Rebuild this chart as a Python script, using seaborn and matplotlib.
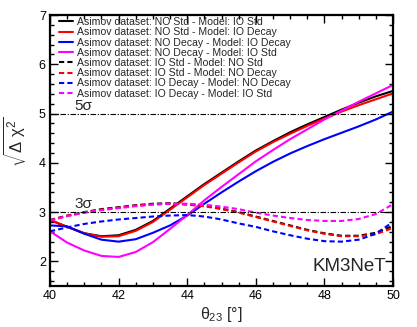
import numpy as np
import pandas as pd
import matplotlib
matplotlib.use("Agg")
import matplotlib.pyplot as plt
from matplotlib.ticker import MultipleLocator
import seaborn as sns

theta = [40, 40.5, 41, 41.5, 42, 42.5, 43, 43.5, 44, 44.5, 45,
         45.5, 46, 46.5, 47, 47.5, 48, 48.5, 49, 49.5, 50]

no_std_io_std = [2.84, 2.70, 2.57, 2.51, 2.53, 2.64, 2.82, 3.07, 3.32, 3.57, 3.80,
                 4.03, 4.25, 4.44, 4.62, 4.78, 4.93, 5.08, 5.22, 5.35, 5.46]
no_std_io_decay = [2.84, 2.70, 2.57, 2.50, 2.51, 2.62, 2.80, 3.05, 3.30, 3.55, 3.78,
                   4.01, 4.23, 4.42, 4.59, 4.75, 4.90, 5.04, 5.17, 5.29, 5.41]
no_decay_io_decay = [2.73, 2.71, 2.56, 2.44, 2.40, 2.45, 2.58, 2.73, 2.93, 3.17, 3.40,
                     3.62, 3.83, 4.02, 4.19, 4.34, 4.48, 4.61, 4.74, 4.88, 5.04]
no_decay_io_std = [2.61, 2.38, 2.22, 2.11, 2.09, 2.19, 2.39, 2.66, 2.94, 3.24, 3.51,
                   3.77, 4.03, 4.26, 4.48, 4.68, 4.88, 5.06, 5.24, 5.41, 5.58]
io_std_no_std = [2.84, 2.93, 3.00, 3.06, 3.10, 3.14, 3.17, 3.18, 3.16, 3.13, 3.07,
                 3.00, 2.91, 2.82, 2.73, 2.64, 2.57, 2.52, 2.52, 2.58, 2.72]
io_std_no_decay = [2.83, 2.92, 2.99, 3.05, 3.09, 3.13, 3.16, 3.17, 3.15, 3.12, 3.06,
                   2.99, 2.90, 2.81, 2.72, 2.63, 2.56, 2.51, 2.51, 2.55, 2.68]
io_decay_no_decay = [2.61, 2.69, 2.76, 2.81, 2.85, 2.88, 2.91, 2.93, 2.94, 2.91, 2.85,
                     2.77, 2.70, 2.61, 2.53, 2.46, 2.41, 2.40, 2.44, 2.56, 2.80]
io_decay_io_std = [2.83, 2.92, 2.99, 3.04, 3.08, 3.12, 3.15, 3.17, 3.17, 3.15, 3.11,
                   3.06, 2.99, 2.93, 2.88, 2.84, 2.82, 2.82, 2.86, 2.96, 3.16]

labels = ['Asimov dataset: NO Std - Model: IO Std',
          'Asimov dataset: NO Std - Model: IO Decay',
          'Asimov dataset: NO Decay - Model: IO Decay',
          'Asimov dataset: NO Decay - Model: IO Std',
          'Asimov dataset: IO Std - Model: NO Std',
          'Asimov dataset: IO Std - Model: NO Decay',
          'Asimov dataset: IO Decay - Model: NO Decay',
          'Asimov dataset: IO Decay - Model: IO Std']
series = [no_std_io_std, no_std_io_decay, no_decay_io_decay, no_decay_io_std,
          io_std_no_std, io_std_no_decay, io_decay_no_decay, io_decay_io_std]
colors = ['black', 'red', 'blue', 'magenta'] * 2
styles = ['-'] * 4 + [(0, (2.5, 1.5))] * 4

sns.set_theme(style="ticks")
plt.rcParams['font.family'] = ['Liberation Sans', 'DejaVu Sans']
plt.rcParams['mathtext.fontset'] = 'custom'
plt.rcParams['mathtext.rm'] = 'Liberation Sans'
plt.rcParams['mathtext.it'] = 'Liberation Sans'

fig = plt.figure(figsize=(4.17, 3.27), dpi=100)
ax = fig.add_axes([0.12, 0.1254, 0.8224, 0.8286])

for lab, vals, c, ls in zip(labels, series, colors, styles):
    df = pd.DataFrame({'theta': theta, 'val': vals})
    sns.lineplot(data=df, x='theta', y='val', ax=ax, color=c, linestyle=ls,
                 lw=1.5, label=lab)

ax.axhline(5, color='black', lw=0.8, linestyle=(0, (5, 1.5, 1, 1.5)))
ax.axhline(3, color='black', lw=0.8, linestyle=(0, (5, 1.5, 1, 1.5)))
ax.text(40.7, 5.02, '5σ', fontsize=11, ha='left', va='bottom')
ax.text(40.7, 3.02, '3σ', fontsize=11, ha='left', va='bottom')
ax.text(49.8, 1.72, 'KM3NeT', fontsize=13.5, ha='right', va='bottom')

ax.set_xlim(40, 50)
ax.set_ylim(1.5, 7)
ax.xaxis.set_major_locator(MultipleLocator(2))
ax.xaxis.set_minor_locator(MultipleLocator(0.5))
ax.yaxis.set_major_locator(MultipleLocator(1))
ax.yaxis.set_minor_locator(MultipleLocator(0.2))
ax.tick_params(which='both', direction='in', top=True, right=True,
               labelsize=9, width=1, colors='black')
ax.tick_params(which='major', length=6, pad=3)
ax.tick_params(which='minor', length=3)
for sp in ax.spines.values():
    sp.set_linewidth(1.6)
    sp.set_color('black')

ax.set_xlabel(r'$\theta_{23}$ [°]', fontsize=11.5, labelpad=2)
ax.set_ylabel('')
fig.text(14 / 417, 1 - 142 / 327, r'$\sqrt{\Delta\ \chi^2}$', fontsize=12,
         rotation=90, ha='center', va='center')

ax.legend(loc='upper left', bbox_to_anchor=(0.02, 1.0), frameon=False,
          fontsize=7.6, handlelength=1.3, handletextpad=0.4,
          labelspacing=0.02, borderaxespad=0.1, borderpad=0.1)

fig.savefig('out.png', dpi=100)
